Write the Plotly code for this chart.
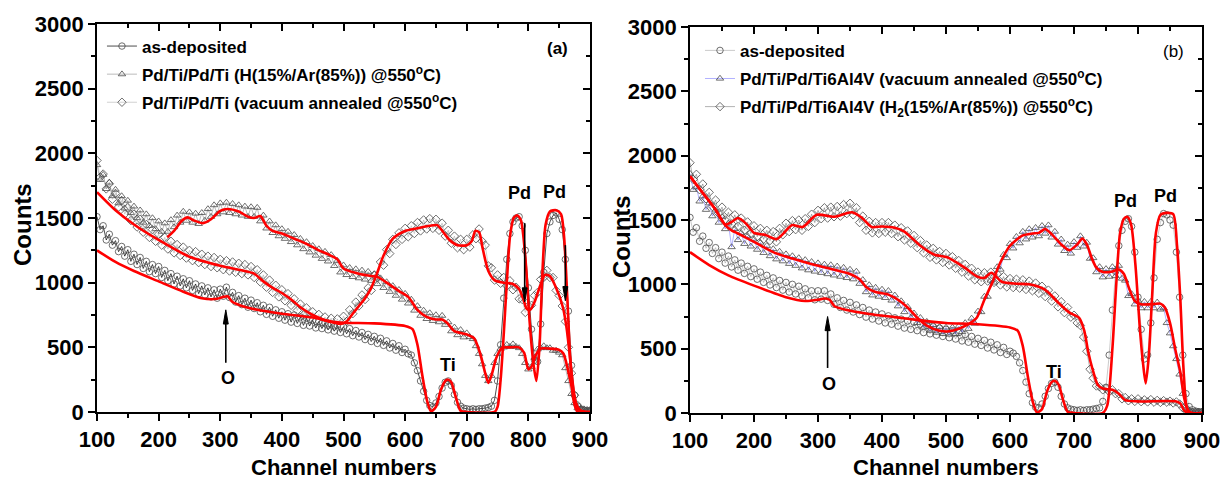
import plotly.graph_objects as go

# ---------------- data ----------------
channels = list(range(100, 905, 5))

# panel (a)
a_asdep = [1510,1410,1440,1330,1375,1290,1325,1240,1280,1205,
           1255,1165,1220,1140,1195,1110,1165,1085,1140,1070,
           1125,1040,1095,1015,1070,990,1050,975,1030,960,
           1015,940,990,915,975,905,960,890,945,880,
           950,895,965,885,925,850,900,830,880,810,
           865,800,845,775,825,755,810,740,790,725,
           775,710,760,695,750,685,735,670,725,665,
           710,650,700,645,690,635,680,625,670,615,
           660,605,645,590,630,580,615,560,600,545,
           585,530,570,515,550,495,530,478,512,460,
           485,450,440,380,320,240,160,90,50,40,
           70,120,185,230,240,205,135,75,45,30,
           25,20,25,20,25,25,30,35,45,90,
           240,520,880,1180,1380,1470,1500,1510,1440,1250,
           960,640,400,390,680,1080,1380,1470,1520,1540,
           1490,1410,1180,780,360,130,45,20,15,10,
           10]
a_h = [1910,1795,1835,1725,1775,1670,1720,1615,1670,1575,
       1635,1540,1590,1500,1560,1465,1530,1440,1500,1415,
       1475,1395,1460,1395,1485,1430,1520,1465,1550,1480,
       1545,1465,1535,1455,1540,1480,1570,1510,1600,1530,
       1615,1545,1620,1540,1610,1530,1600,1520,1590,1510,
       1585,1510,1580,1475,1520,1420,1475,1385,1445,1360,
       1415,1340,1395,1315,1370,1290,1340,1260,1315,1235,
       1285,1210,1260,1185,1240,1165,1215,1130,1170,1080,
       1135,1060,1115,1045,1105,1035,1095,1025,1085,1015,
       1065,990,1035,960,1005,930,975,900,945,870,
       915,840,870,785,820,745,785,720,765,705,
       750,695,745,675,695,625,655,595,635,578,
       610,580,565,510,450,370,280,240,280,380,
       450,490,500,520,505,525,505,495,450,380,
       330,350,420,485,495,510,495,495,475,475,
       460,440,340,240,140,70,30,20,15,10,
       10]
a_vac = [1945,1815,1840,1725,1765,1645,1690,1585,1635,1530,
         1580,1480,1530,1430,1490,1390,1450,1350,1410,1320,
         1375,1290,1350,1260,1320,1230,1295,1210,1275,1190,
         1250,1170,1240,1155,1220,1140,1205,1125,1195,1115,
         1180,1100,1170,1090,1160,1080,1150,1070,1140,1060,
         1125,1040,1100,1005,1060,965,1020,925,980,890,
         945,860,915,825,875,785,835,750,805,720,
         775,705,755,685,735,670,725,660,720,665,
         740,700,790,760,850,820,905,870,960,940,
         1060,1040,1160,1135,1255,1225,1335,1295,1385,1335,
         1420,1355,1440,1380,1465,1400,1485,1415,1495,1420,
         1490,1405,1460,1360,1405,1305,1360,1270,1335,1255,
         1335,1275,1370,1340,1415,1320,1290,1130,1115,1020,
         1060,995,1040,975,1015,945,965,875,870,770,
         820,825,900,925,1025,1040,1095,1040,1040,940,
         900,820,700,500,300,130,50,20,15,10,
         10]

# panel (b)
b_asdep = [1520,1405,1440,1335,1375,1280,1325,1240,1285,1200,
           1250,1165,1220,1135,1190,1110,1165,1085,1140,1060,
           1120,1040,1095,1015,1070,995,1050,975,1030,955,
           1015,940,1000,925,985,910,965,895,950,880,
           950,885,950,875,925,845,895,820,875,800,
           860,785,840,765,820,745,800,730,785,715,
           770,700,755,690,740,675,730,660,715,650,
           705,640,690,625,680,615,670,605,660,595,
           650,585,640,575,625,560,610,550,595,535,
           580,525,565,505,550,490,530,470,510,455,
           480,465,440,390,330,240,150,80,45,40,
           70,130,190,230,240,200,130,70,40,30,
           25,20,25,20,25,25,30,35,40,90,
           200,450,800,1100,1300,1420,1490,1510,1450,1250,
           900,650,420,450,700,1050,1350,1480,1550,1540,
           1500,1460,1250,900,450,150,50,25,15,10,
           10]
b_vac = [1860,1735,1755,1645,1685,1580,1630,1530,1575,1480,
         1525,1430,1475,1290,1430,1345,1400,1315,1375,1295,
         1350,1270,1325,1245,1300,1220,1275,1195,1255,1180,
         1235,1160,1220,1145,1205,1125,1190,1110,1175,1100,
         1165,1090,1155,1080,1150,1070,1140,1060,1130,1050,
         1115,1040,1100,1005,1035,940,995,915,975,905,
         960,895,950,875,915,830,870,785,825,740,
         775,700,740,665,710,640,685,625,670,615,
         665,610,665,615,675,630,700,655,735,695,
         790,785,905,905,1030,1015,1135,1115,1230,1205,
         1315,1280,1370,1320,1410,1350,1430,1365,1440,1375,
         1455,1395,1460,1365,1410,1310,1350,1260,1310,1240,
         1330,1285,1375,1295,1325,1200,1205,1095,1135,1055,
         1120,1060,1135,1065,1145,1045,1030,910,925,845,
         875,815,865,815,865,815,860,805,815,700,
         620,520,420,300,150,50,20,10,10,5,
         5]
b_h2 = [1945,1815,1855,1735,1780,1665,1715,1605,1655,1550,
        1600,1500,1560,1470,1540,1450,1515,1420,1485,1395,
        1455,1370,1435,1350,1420,1340,1410,1330,1435,1385,
        1475,1410,1495,1425,1500,1420,1510,1450,1545,1480,
        1575,1510,1595,1515,1600,1525,1605,1530,1620,1550,
        1630,1540,1595,1480,1530,1420,1490,1400,1480,1395,
        1480,1405,1480,1395,1460,1370,1440,1345,1415,1320,
        1380,1285,1340,1245,1305,1210,1280,1190,1255,1170,
        1240,1150,1215,1125,1185,1095,1155,1065,1125,1035,
        1095,1020,1090,1025,1095,1015,1080,995,1060,980,
        1045,975,1040,970,1035,960,1025,950,1010,930,
        985,905,955,870,910,825,865,780,820,745,
        760,700,680,590,480,340,270,210,205,180,
        190,165,180,150,150,110,120,95,110,90,
        110,88,102,86,104,84,98,82,96,84,
        92,78,86,70,40,20,10,5,5,5,
        5]

# simulated-fit (red) curves
fa0_x = [100,130,160,200,240,270,295,305,312,320,335,360,400,450,480,500,550,600,612,620,
         628,636,642,650,658,665,670,675,682,690,700,745,750,755,760,765,770,776,782,788,
         795,802,808,813,818,823,828,835,845,853,858,863,868,873,880,900]
fa0_y = [1250,1160,1090,1010,930,880,875,890,895,850,820,790,760,730,700,690,685,665,640,520,
         280,80,5,40,170,240,250,230,120,10,0,0,40,250,600,1000,1350,1500,1520,1480,
         1200,700,380,240,500,1100,1450,1550,1560,1530,1350,900,400,100,0,0]
fa1_x = [214,225,238,247,258,272,285,300,312,330,345,355,365,375,385,400,420,440,460,475,
         490,500,520,540,555,570,590,605,620,635,650,660,668,680,700,712,722,730,735,740,
         748,757,770,785,793,800,806,812,820,835,850,857,864,870,876,885,900]
fa1_y = [1350,1400,1480,1505,1480,1460,1490,1555,1570,1550,1510,1500,1515,1440,1400,1380,1340,1300,1250,1220,
         1180,1110,1075,1055,1045,1000,935,890,790,735,715,715,690,625,600,570,450,300,225,280,
         420,495,500,500,460,330,360,440,490,490,480,450,330,200,80,10,0]
fa2_x = [100,130,160,200,250,300,340,355,370,385,400,415,430,450,470,485,495,505,515,525,
         535,545,555,565,580,600,620,640,652,662,672,685,700,708,714,720,726,735,745,760,
         775,785,792,797,803,810,818,827,835,845,856,862,868,874,880,890,900]
fa2_y = [1700,1560,1450,1330,1200,1130,1090,1070,1010,960,920,870,810,750,710,690,680,700,760,820,
         880,960,1080,1210,1340,1400,1420,1440,1445,1390,1330,1290,1290,1320,1400,1390,1260,1090,1020,1000,
         990,950,870,800,790,850,960,1060,1050,960,810,650,400,150,30,0,0]

fb0_x = [100,130,160,200,250,280,300,310,318,326,345,380,420,460,500,550,600,612,620,628,
         636,642,650,658,665,670,676,683,690,700,745,752,760,766,772,778,783,789,796,803,
         808,812,817,822,828,835,845,855,861,866,871,876,882,900]
fb0_y = [1250,1150,1070,990,900,870,880,890,880,830,800,770,745,720,700,690,665,640,520,280,
         80,5,30,170,240,250,220,100,10,0,0,60,500,1000,1400,1510,1525,1470,1150,650,
         380,230,450,900,1400,1540,1555,1545,1300,900,350,50,0,0]
fb1_x = [100,120,140,155,165,175,200,230,260,295,320,350,365,375,390,410,425,440,455,470,
         490,505,520,535,548,560,572,584,600,620,635,645,655,665,680,693,705,713,720,728,
         735,745,760,770,778,786,795,805,820,835,842,850,858,866,872,878,885,900]
fb1_y = [1840,1710,1580,1460,1420,1395,1330,1250,1200,1150,1120,1080,1040,980,940,920,880,820,740,680,
         640,635,655,690,740,880,1010,1160,1300,1380,1395,1400,1430,1390,1310,1265,1310,1355,1310,1200,
         1130,1095,1100,1115,1080,970,870,845,845,850,820,700,500,320,120,20,0,0]
fb2_x = [100,120,140,155,165,175,188,200,217,235,245,259,276,298,326,353,368,384,400,420,
         435,460,482,502,529,549,560,571,587,610,630,654,677,693,708,716,722,729,737,745,
         760,770,780,800,860,866,872,878,900]
fb2_y = [1840,1710,1580,1465,1485,1515,1470,1400,1385,1350,1390,1460,1445,1540,1525,1560,1520,1445,1450,1440,
         1410,1300,1230,1210,1130,1060,1050,1090,1020,1005,1000,960,850,780,740,640,480,340,220,190,
         180,150,100,90,90,75,20,0,0]

FONT = "Arial, Liberation Sans, sans-serif"
MK = "#4a4a4a"

fig = go.Figure()


def data_trace(y, symbol, name, lcolor, lwidth, xa, ya, leg, grp):
    return go.Scatter(
        x=channels, y=y, mode="lines+markers", name=name, legendgroup=grp,
        line=dict(color=lcolor, width=lwidth),
        marker=dict(symbol=symbol, size=6.5, color="rgba(255,255,255,0)",
                    line=dict(color=MK, width=0.8)),
        xaxis=xa, yaxis=ya, legend=leg)


def fit_trace(x, y, xa, ya):
    return go.Scatter(x=x, y=y, mode="lines", showlegend=False,
                      line=dict(color="#ff0000", width=2.6, shape="spline", smoothing=0.7),
                      xaxis=xa, yaxis=ya, hoverinfo="skip")


# panel (a)
fig.add_trace(data_trace(a_asdep, "circle", "as-deposited", "black", 0.7, "x", "y", "legend", "a1"))
fig.add_trace(data_trace(a_h, "triangle-up", "Pd/Ti/Pd/Ti (H(15%/Ar(85%)) @550<sup>o</sup>C)", "#666666", 0.45, "x", "y", "legend", "a2"))
fig.add_trace(data_trace(a_vac, "diamond", "Pd/Ti/Pd/Ti (vacuum annealed @550<sup>o</sup>C)", "#999999", 0.45, "x", "y", "legend", "a3"))
for fx, fy in [(fa0_x, fa0_y), (fa1_x, fa1_y), (fa2_x, fa2_y)]:
    fig.add_trace(fit_trace(fx, fy, "x", "y"))

# panel (b)
fig.add_trace(data_trace(b_asdep, "circle", "as-deposited", "#888888", 0.45, "x2", "y2", "legend2", "b1"))
fig.add_trace(data_trace(b_vac, "triangle-up", "Pd/Ti/Pd/Ti6Al4V (vacuum annealed @550<sup>o</sup>C)", "#3a3aff", 0.4, "x2", "y2", "legend2", "b2"))
fig.add_trace(data_trace(b_h2, "diamond", "Pd/Ti/Pd/Ti6Al4V (H<sub>2</sub>(15%/Ar(85%)) @550<sup>o</sup>C)", "#555555", 0.45, "x2", "y2", "legend2", "b3"))
for fx, fy in [(fb0_x, fb0_y), (fb1_x, fb1_y), (fb2_x, fb2_y)]:
    fig.add_trace(fit_trace(fx, fy, "x2", "y2"))

# dummy traces so mirror axes render
for xa, ya in [("x3", "y3"), ("x4", "y4")]:
    fig.add_trace(go.Scatter(x=[None], y=[None], xaxis=xa, yaxis=ya, showlegend=False))

tickfont = dict(family=FONT, size=22, color="black", weight="bold")


def main_x(domain, anchor):
    return dict(domain=domain, anchor=anchor, range=[100, 900], tick0=100, dtick=100,
                ticks="outside", ticklen=7, tickwidth=1.5, tickcolor="black",
                minor=dict(ticks="outside", ticklen=4, dtick=50, tickwidth=1.5, tickcolor="black"),
                showline=True, linecolor="black", linewidth=1.6, mirror=True,
                showgrid=False, zeroline=False, tickfont=tickfont, automargin=False)


def main_y(domain, anchor):
    return dict(domain=domain, anchor=anchor, range=[0, 3000], tick0=0, dtick=500,
                ticks="outside", ticklen=7, tickwidth=1.5, tickcolor="black",
                minor=dict(ticks="outside", ticklen=4, dtick=250, tickwidth=1.5, tickcolor="black"),
                showline=True, linecolor="black", linewidth=1.6, mirror=True,
                showgrid=False, zeroline=False, tickfont=tickfont, automargin=False)


def top_x(over, anchor):
    return dict(overlaying=over, anchor=anchor, side="top", range=[100, 900], tick0=100, dtick=100,
                ticks="inside", ticklen=7, tickwidth=1.5, tickcolor="black",
                minor=dict(ticks="inside", ticklen=4, dtick=50, tickwidth=1.5, tickcolor="black"),
                showticklabels=False, showline=False, showgrid=False, zeroline=False, automargin=False)


def right_y(over, anchor):
    return dict(overlaying=over, anchor=anchor, side="right", range=[0, 3000], tick0=0, dtick=500,
                ticks="inside", ticklen=7, tickwidth=1.5, tickcolor="black",
                minor=dict(ticks="inside", ticklen=4, dtick=250, tickwidth=1.5, tickcolor="black"),
                showticklabels=False, showline=False, showgrid=False, zeroline=False, automargin=False)


dxa = [97 / 1221, 590 / 1221]
dya = [(483 - 412) / 483, (483 - 24) / 483]
dxb = [690 / 1221, 1202 / 1221]
dyb = [(483 - 413) / 483, (483 - 27) / 483]

legfont = dict(family=FONT, size=17, color="black", weight="bold")

fig.update_layout(
    width=1221, height=483,
    margin=dict(l=0, r=0, t=0, b=0, autoexpand=False),
    paper_bgcolor="white", plot_bgcolor="white",
    xaxis=main_x(dxa, "y"), yaxis=main_y(dya, "x"),
    xaxis2=main_x(dxb, "y2"), yaxis2=main_y(dyb, "x2"),
    xaxis3=top_x("x", "y"), yaxis3=right_y("y", "x"),
    xaxis4=top_x("x2", "y2"), yaxis4=right_y("y2", "x2"),
    legend=dict(x=0.0835, y=0.941, xanchor="left", yanchor="top", bgcolor="rgba(0,0,0,0)",
                font=legfont, tracegroupgap=3),
    legend2=dict(x=0.5733, y=0.932, xanchor="left", yanchor="top", bgcolor="rgba(0,0,0,0)",
                 font=legfont, tracegroupgap=3),
    showlegend=True,
)

ann = []
lab = dict(family=FONT, size=18, color="black", weight="bold")
# axis titles
for xc, yc in [(22 / 1221, 1 - 225 / 483), (622 / 1221, 1 - 237 / 483)]:
    ann.append(dict(text="Counts", x=xc, y=yc, xref="paper", yref="paper", showarrow=False,
                    xanchor="center", yanchor="middle",
                    textangle=-90, font=dict(family=FONT, size=24, color="black", weight="bold")))
for xc in [343.5 / 1221, 946 / 1221]:
    ann.append(dict(text="Channel numbers", x=xc, y=1 - 467 / 483, xref="paper", yref="paper",
                    showarrow=False, xanchor="center", yanchor="middle",
                    font=dict(family=FONT, size=22, color="black", weight="bold")))
# panel labels
ann.append(dict(text="(a)", x=848, y=2810, xref="x", yref="y", showarrow=False, font=legfont))
ann.append(dict(text="(b)", x=856, y=2806, xref="x2", yref="y2", showarrow=False,
                font=dict(family=FONT, size=17, color="black")))
# element labels
for t, xx, yy, xr, yr in [("Pd", 785, 1690, "x", "y"), ("Pd", 843, 1700, "x", "y"),
                          ("Ti", 670, 360, "x", "y"), ("O", 312, 265, "x", "y"),
                          ("Pd", 780, 1650, "x2", "y2"), ("Pd", 843, 1690, "x2", "y2"),
                          ("Ti", 668, 320, "x2", "y2"), ("O", 317, 228, "x2", "y2")]:
    ann.append(dict(text=t, x=xx, y=yy, xref=xr, yref=yr, showarrow=False, font=lab))
fig.update_layout(annotations=ann)

# arrows (line + head) drawn as shapes in data coordinates
arrows = [(309, 380, 790, "x", "y"), (794, 1460, 850, "x", "y"),
          (860, 1290, 860, "x", "y"), (315, 350, 750, "x2", "y2")]
for ax_, y0, y1, xr, yr in arrows:
    fig.add_shape(type="line", x0=ax_, x1=ax_, y0=y0, y1=y1 - 60 if y1 > y0 else y1 + 60,
                  xref=xr, yref=yr, line=dict(color="black", width=1.6))
    d = 1 if y1 > y0 else -1
    fig.add_shape(type="path", xref=xr, yref=yr, fillcolor="black", line=dict(color="black", width=1),
                  path=f"M {ax_-4},{y1 - d*110} L {ax_+4},{y1 - d*110} L {ax_},{y1} Z")

fig.write_html("out.html", config={"displayModeBar": False},
               post_script="document.body.style.margin='0px';")
